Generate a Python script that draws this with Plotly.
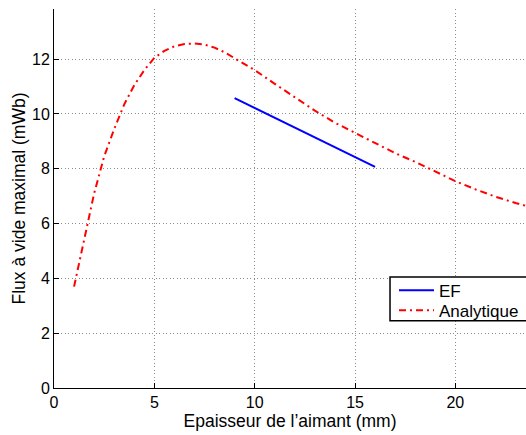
import plotly.graph_objects as go

# Analytical curve
x_analytique = [1, 1.5, 2, 2.5, 3, 3.5, 4, 4.5, 5, 5.5, 6, 6.5, 7, 7.5, 8, 8.5, 9,
                10, 11, 12, 13, 14, 15, 16, 17, 18, 19, 20, 21, 22, 23, 23.5]
y_analytique = [3.7, 5.45, 7.1, 8.45, 9.45, 10.35, 11.05, 11.6, 12.05, 12.3, 12.47, 12.55,
                12.57, 12.53, 12.42, 12.25, 12.03, 11.6, 11.1, 10.6, 10.12, 9.68,
                9.3, 8.93, 8.57, 8.25, 7.9, 7.55, 7.25, 6.98, 6.75, 6.65]

# Finite-element results
x_ef = [9, 10, 12, 14, 16]
y_ef = [10.58, 10.22, 9.49, 8.77, 8.07]

x_ticks = [0, 5, 10, 15, 20]
y_ticks = [0, 2, 4, 6, 8, 10, 12]

font = "Liberation Sans, Arial, Helvetica, sans-serif"

fig = go.Figure()
fig.add_trace(go.Scatter(x=x_ef, y=y_ef, mode="lines", name="EF", legend="legend",
                         line=dict(color="#0000ff", width=2)))
fig.add_trace(go.Scatter(x=x_analytique, y=y_analytique, mode="lines", name="Analytique",
                         legend="legend2",
                         line=dict(color="#ff0000", width=2, dash="7px,4px,2px,4px")))

axis_common = dict(showgrid=True, gridcolor="#8c8c8c", griddash="1px,2.5px", gridwidth=1,
                   showline=True, linecolor="black", linewidth=1, ticks="inside",
                   ticklen=5, tickcolor="black", zeroline=False, mirror=False,
                   automargin=False,
                   tickfont=dict(size=16, color="black", family=font))

fig.update_xaxes(range=[0, 23.52], tickvals=x_ticks, **axis_common, ticklabelstandoff=0,
                 title=dict(text="Epaisseur de l’aimant (mm)", standoff=0,
                            font=dict(size=17.5, color="black", family=font)))
fig.update_yaxes(range=[0, 13.83], tickvals=y_ticks, **axis_common, ticklabelstandoff=0,
                 title=dict(text="Flux à vide maximal (mWb)", standoff=1,
                            font=dict(size=17.5, color="black", family=font)))

legend_style = dict(xanchor="left", yanchor="middle", bgcolor="rgba(0,0,0,0)",
                    borderwidth=0, itemwidth=35,
                    font=dict(size=17, family=font, color="black"))

# Legend frame (white box with black border, running off the right edge)
fig.add_shape(type="rect", xref="paper", yref="paper",
              x0=0.7119, x1=1.05, y0=0.1776, y1=0.2929,
              fillcolor="white", line=dict(color="black", width=1.5), layer="above")

fig.update_layout(
    width=526, height=435,
    margin=dict(l=54, r=0, t=9, b=47),
    plot_bgcolor="white", paper_bgcolor="white",
    font=dict(family=font, color="black"),
    legend=dict(x=0.7203, y=0.2567, **legend_style),
    legend2=dict(x=0.7203, y=0.204, **legend_style),
    showlegend=True,
)

# Remove the browser's default page margin so the figure fills the window exactly.
post = ("document.body.style.margin='0';"
        "document.body.style.overflow='hidden';"
        "document.documentElement.style.overflow='hidden';")

fig.write_html("out.html", post_script=post, config={"displayModeBar": False})
